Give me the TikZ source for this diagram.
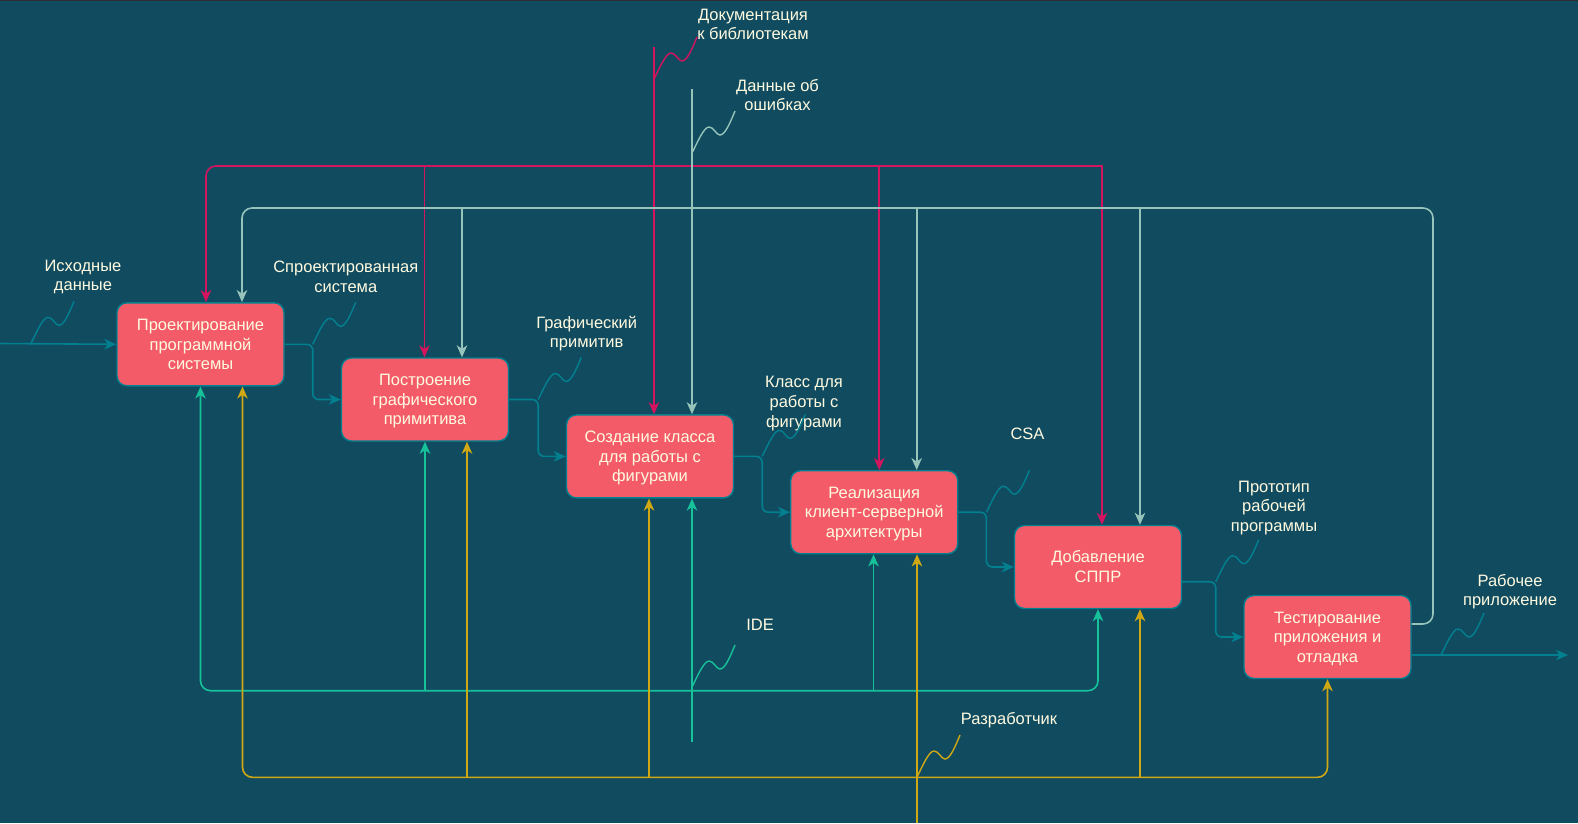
\documentclass[tikz,border=0pt]{standalone}
\usepackage{fontspec}
\setmainfont{Liberation Sans}
\usetikzlibrary{arrows.meta}
\definecolor{bgc}{HTML}{114B5F}
\definecolor{topc}{HTML}{2E2E2E}
\definecolor{boxc}{HTML}{F45B69}
\definecolor{cream}{HTML}{FEFAE0}
\definecolor{flowc}{HTML}{028090}
\definecolor{docc}{HTML}{D4145F}
\definecolor{errc}{HTML}{96C4BA}
\definecolor{idec}{HTML}{17C29B}
\definecolor{devc}{HTML}{CFA814}
\tikzset{
  proc/.style={draw=flowc, fill=boxc, line width=1.4pt, rounded corners=10pt,
    minimum width=167pt, minimum height=83pt, inner sep=0pt,
    text=cream, align=center, font=\fontsize{16.5}{19.7}\selectfont},
  lbl/.style={text=cream, align=center, inner sep=0pt,
    font=\fontsize{16.5}{19.7}\selectfont},
  wire/.style={line width=1.6pt, rounded corners=10pt, ->},
  flowline/.style={wire, draw=flowc, rounded corners=6pt},
  docline/.style={wire, draw=docc},
  errline/.style={wire, draw=errc},
  ideline/.style={wire, draw=idec},
  devline/.style={wire, draw=devc}
}
% line box of one text row: 15.6 above, 4.1 below the baseline
\newcommand{\lstrut}{\rule[-4.1pt]{0pt}{19.7pt}}
\newcommand{\squiggle}[2]{\draw[draw=#1, line width=1.4pt, shift={#2}]
  (0,0) .. controls (6,-12) and (12,-26) .. (17,-26)
  .. controls (22,-26) and (24,-18) .. (28,-18)
  .. controls (33,-18) and (38,-30) .. (43,-42);}
\begin{document}
\begin{tikzpicture}[x=1pt, y=-1pt, >={Stealth[length=12pt,width=10.5pt,inset=3.5pt]}]
  \fill[bgc] (0,0) rectangle (1578,823);
  \useasboundingbox (0,0) rectangle (1578,823);
  \fill[topc] (0,0) rectangle (1578,1.4);
  % processes
  \node[proc] (b1) at (200.5,344.3) {\lstrut Проектирование\\программной\\системы\lstrut};
  \node[proc] (b2) at (425,399.5) {\lstrut Построение\\графического\\примитива\lstrut};
  \node[proc] (b3) at (650,456.4) {\lstrut Создание класса\\для работы с\\фигурами\lstrut};
  \node[proc] (b4) at (874.2,512.2) {\lstrut Реализация\\клиент-серверной\\архитектуры\lstrut};
  \node[proc] (b5) at (1098,567) {\lstrut Добавление\\СППР\lstrut};
  \node[proc] (b6) at (1327.5,637) {\lstrut Тестирование\\приложения и\\отладка\lstrut};
  % free ends and buses
  \coordinate (insrc) at (0,343.5);
  \coordinate (outend) at (1568,655);
  \coordinate (docsrc) at (654,47);
  \coordinate (docbus) at (654,166);
  \coordinate (errsrc) at (692,89);
  \coordinate (errbus) at (1433,208);
  \coordinate (idesrc) at (692,742);
  \coordinate (idebus) at (692,690.7);
  \coordinate (devsrc) at (917,823);
  \coordinate (devbus) at (917,777.3);
  % main flow
  \draw[flowline] (insrc) -- (b1.west);
  \draw[flowline] (b1.east) -- ++(28,0) coordinate (k1) |- (b2.west);
  \draw[flowline] (b2.east) -- ++(29,0) coordinate (k2) |- (b3.west);
  \draw[flowline] (b3.east) -- ++(28,0) coordinate (k3) |- (b4.west);
  \draw[flowline] (b4.east) -- ++(28,0) coordinate (k4) |- (b5.west);
  \draw[flowline] ([yshift=-14.7pt]b5.east) -- ++(33.5,0) coordinate (k5) |- (b6.west);
  \draw[flowline] ([yshift=-18pt]b6.east) -- (outend);
  % documentation
  \draw[docline] (docsrc) -- (docsrc |- b3.north);
  \draw[docline] (docbus) -| ([xshift=5.5pt]b1.north);
  \draw[docline, sharp corners] (docbus) -| ([xshift=4pt]b5.north);
  \draw[docline] ([xshift=-0.5pt]b2.north |- docbus) -- ([xshift=-0.5pt]b2.north);
  \draw[docline] ([xshift=5pt]b4.north |- docbus) -- ([xshift=5pt]b4.north);
  % error data
  \draw[errline] (errsrc) -- (errsrc |- b3.north);
  \draw[errline] ([yshift=13pt]b6.east) -| (errbus) -| ([xshift=41.5pt]b1.north);
  \draw[errline] ([xshift=37pt]b2.north |- errbus) -- ([xshift=37pt]b2.north);
  \draw[errline] ([xshift=42.5pt]b4.north |- errbus) -- ([xshift=42.5pt]b4.north);
  \draw[errline] ([xshift=42pt]b5.north |- errbus) -- ([xshift=42pt]b5.north);
  % IDE
  \draw[ideline] (idesrc) -- (idesrc |- b3.south);
  \draw[ideline, <->] (b1.south) |- (idebus) -| (b5.south);
  \draw[ideline] (b2.south |- idebus) -- (b2.south);
  \draw[ideline] ([xshift=-0.7pt]b4.south |- idebus) -- ([xshift=-0.7pt]b4.south);
  % developer
  \draw[devline] (devsrc) -- (devsrc |- b4.south);
  \draw[devline, <->] ([xshift=42pt]b1.south) |- (devbus) -| (b6.south);
  \draw[devline] ([xshift=42pt]b2.south |- devbus) -- ([xshift=42pt]b2.south);
  \draw[devline] ([xshift=-1pt]b3.south |- devbus) -- ([xshift=-1pt]b3.south);
  \draw[devline] ([xshift=42pt]b5.south |- devbus) -- ([xshift=42pt]b5.south);
  % labels
  \node[lbl] (tin) at (83,277) {Исходные\\данные};
  \node[lbl] (tk1) at (345.8,277) {Спроектированная\\система};
  \node[lbl] (tk2) at (586.7,333.5) {Графический\\примитив};
  \node[lbl] (tk3) at (804,403.5) {Класс для\\работы с\\фигурами};
  \node[lbl] (tk4) at (1027.5,434) {CSA};
  \node[lbl] (tk5) at (1274,508) {Прототип\\рабочей\\программы};
  \node[lbl] (tout) at (1510,591.5) {Рабочее\\приложение};
  \node[lbl] (tdoc) at (753,24.5) {Документация\\к библиотекам};
  \node[lbl] (terr) at (777.5,95) {Данные об\\ошибках};
  \node[lbl] (tide) at (760,624.5) {IDE};
  \node[lbl] (tdev) at (1009,720) {Разработчик};
  \squiggle{flowc}{(31,343.3)}
  \squiggle{flowc}{(k1)}
  \squiggle{flowc}{(k2)}
  \squiggle{flowc}{(k3)}
  \squiggle{flowc}{(k4)}
  \squiggle{flowc}{(k5)}
  \squiggle{flowc}{(1441,655)}
  \squiggle{docc}{(654,79)}
  \squiggle{errc}{(692,153)}
  \squiggle{idec}{(692,687)}
  \squiggle{devc}{(917,777)}
\end{tikzpicture}
\end{document}
